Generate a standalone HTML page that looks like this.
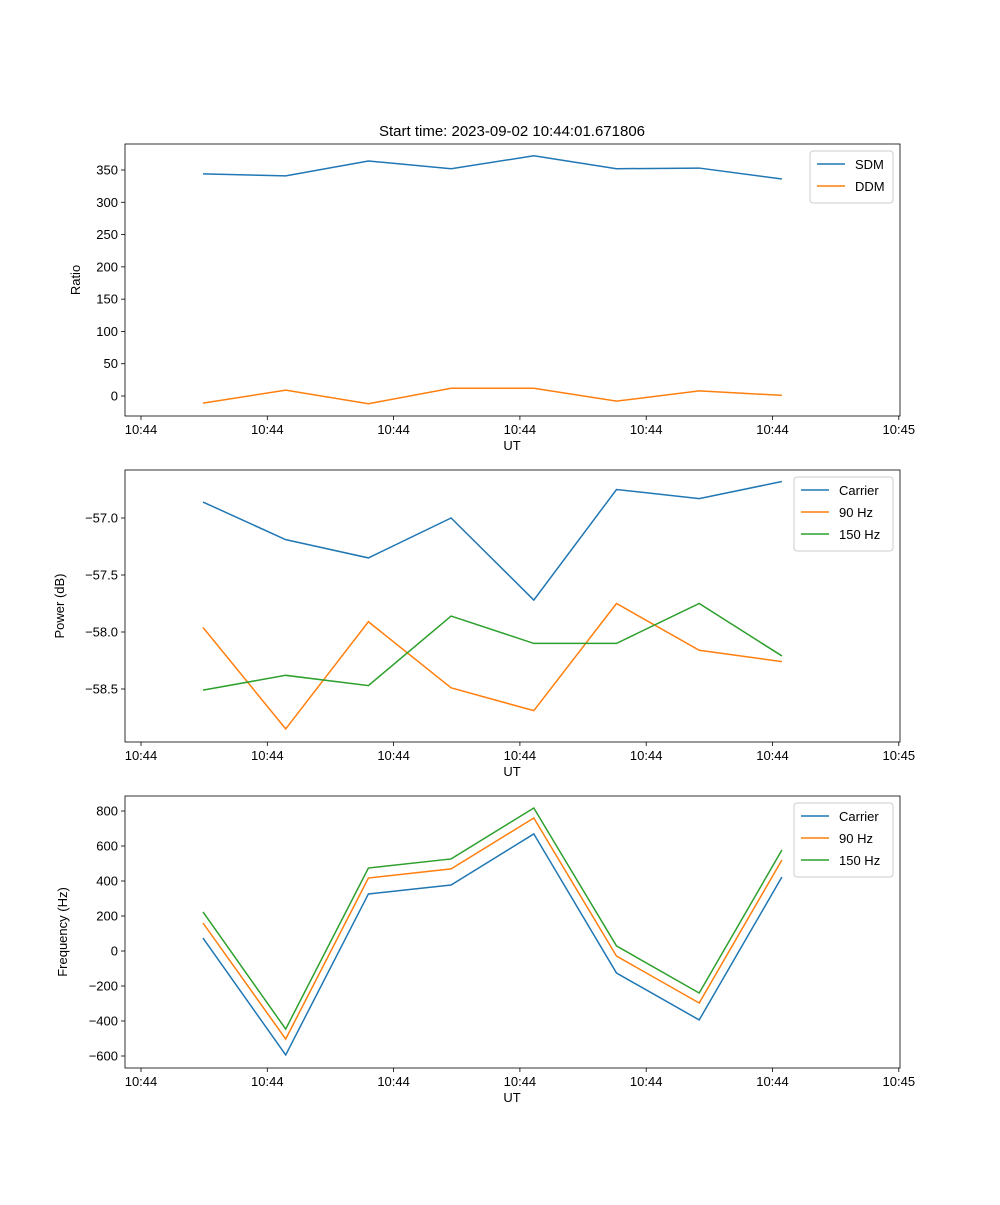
<!DOCTYPE html>
<html><head><meta charset="utf-8"><style>
body{margin:0;background:#fff}
svg text{font-family:"Liberation Sans","DejaVu Sans",sans-serif;font-size:13px;fill:#000}
</style></head><body>
<svg id="chart" width="1000" height="1200" xmlns="http://www.w3.org/2000/svg">
<text x="512" y="136" text-anchor="middle" style="font-size:15px">Start time: 2023-09-02 10:44:01.671806</text>
</svg>
<script>
const xTickLabels=["10:44","10:44","10:44","10:44","10:44","10:44","10:45"];
const sdm=[344,341,364,352,372,352,353,336];
const ddm=[-11,9,-12,12,12,-8,8,1];
const carrierPow=[-56.86,-57.19,-57.35,-57.0,-57.72,-56.75,-56.83,-56.68];
const hz90Pow=[-57.96,-58.85,-57.91,-58.49,-58.69,-57.75,-58.16,-58.26];
const hz150Pow=[-58.51,-58.38,-58.47,-57.86,-58.10,-58.10,-57.75,-58.21];
const carrierFreq=[74,-594,326,377,669,-126,-394,423];
const hz90Freq=[160,-503,417,469,760,-29,-297,520];
const hz150Freq=[223,-446,474,526,817,29,-240,577];
const ratioTicks=[0,50,100,150,200,250,300,350];
const powTicks=[-57.0,-57.5,-58.0,-58.5];
const freqTicks=[-600,-400,-200,0,200,400,600,800];

const NS="http://www.w3.org/2000/svg",svg=document.getElementById('chart');
const C=["#1f77b4","#ff7f0e","#2ca02c"];
function mk(t,a,p){const e=document.createElementNS(NS,t);for(const k in a)e.setAttribute(k,a[k]);(p||svg).appendChild(e);return e;}
const L=125,R=900;
function xs(i){return 203+i*82.7;}
function xt(j){return 141+j*126.3;}
function panel(name,top,ylab,y0v,y0p,scale,ticks,fmt,series,names,legW){
  const bot=top+272;
  const g=mk('g',{});
  
  
  const ys=v=>y0p-(v-y0v)*scale;
  series.forEach((s,k)=>{
    const pts=s.map((v,i)=>xs(i)+','+ys(v)).join(' ');
    const pl=mk('polyline',{points:pts,fill:'none',stroke:C[k],'stroke-width':1.5},g);
    
    
  });
  const fr=mk('rect',{x:L,y:top,width:R-L,height:272,fill:'none',stroke:'#000','stroke-width':0.8},g);
  
  
  xTickLabels.forEach((t,j)=>{
    const x=xt(j);
    mk('line',{x1:x,x2:x,y1:bot,y2:bot+4,stroke:'#000','stroke-width':0.8},g);
    const tx=mk('text',{x:x,y:bot+18,'text-anchor':'middle'},g);tx.textContent=t;
    
    
  });
  ticks.forEach(v=>{
    const y=ys(v);
    mk('line',{x1:L-4,x2:L,y1:y,y2:y,stroke:'#000','stroke-width':0.8},g);
    const tx=mk('text',{x:L-7,y:y+4.5,'text-anchor':'end'},g);tx.textContent=fmt(v);
    
    
  });
  const xl=mk('text',{x:512,y:bot+34,'text-anchor':'middle'},g);xl.textContent='UT';
  
  
  const yl=mk('text',{x:0,y:0,'text-anchor':'middle',transform:`translate(${name==='ratio'?80:name==='power'?64:67},${top+136}) rotate(-90)`},g);yl.textContent=ylab;
  
  
  const lx=R-7-legW,ly=top+7,lh=names.length*22+8;
  const lg=mk('g',{},g);
  
  
  mk('rect',{x:lx,y:ly,width:legW,height:lh,fill:'#fff',stroke:'#ccc',rx:3},lg);
  names.forEach((n,k)=>{
    const y=ly+13+k*22;
    mk('line',{x1:lx+7,x2:lx+35,y1:y,y2:y,stroke:C[k],'stroke-width':1.5},lg);
    const t=mk('text',{x:lx+45,y:y+5},lg);t.textContent=n;
    
    
  });
}
panel('ratio',144,'Ratio',0,396,0.6457,ratioTicks,v=>String(v),[sdm,ddm],['SDM','DDM'],83);
panel('power',470,'Power (dB)',-57.0,518,114,powTicks,v=>'\u2212'+Math.abs(v).toFixed(1),[carrierPow,hz90Pow,hz150Pow],['Carrier','90 Hz','150 Hz'],99);
panel('frequency',796,'Frequency (Hz)',0,951,0.175,freqTicks,v=>v<0?'\u2212'+(-v):String(v),[carrierFreq,hz90Freq,hz150Freq],['Carrier','90 Hz','150 Hz'],99);
</script>
</body></html>
